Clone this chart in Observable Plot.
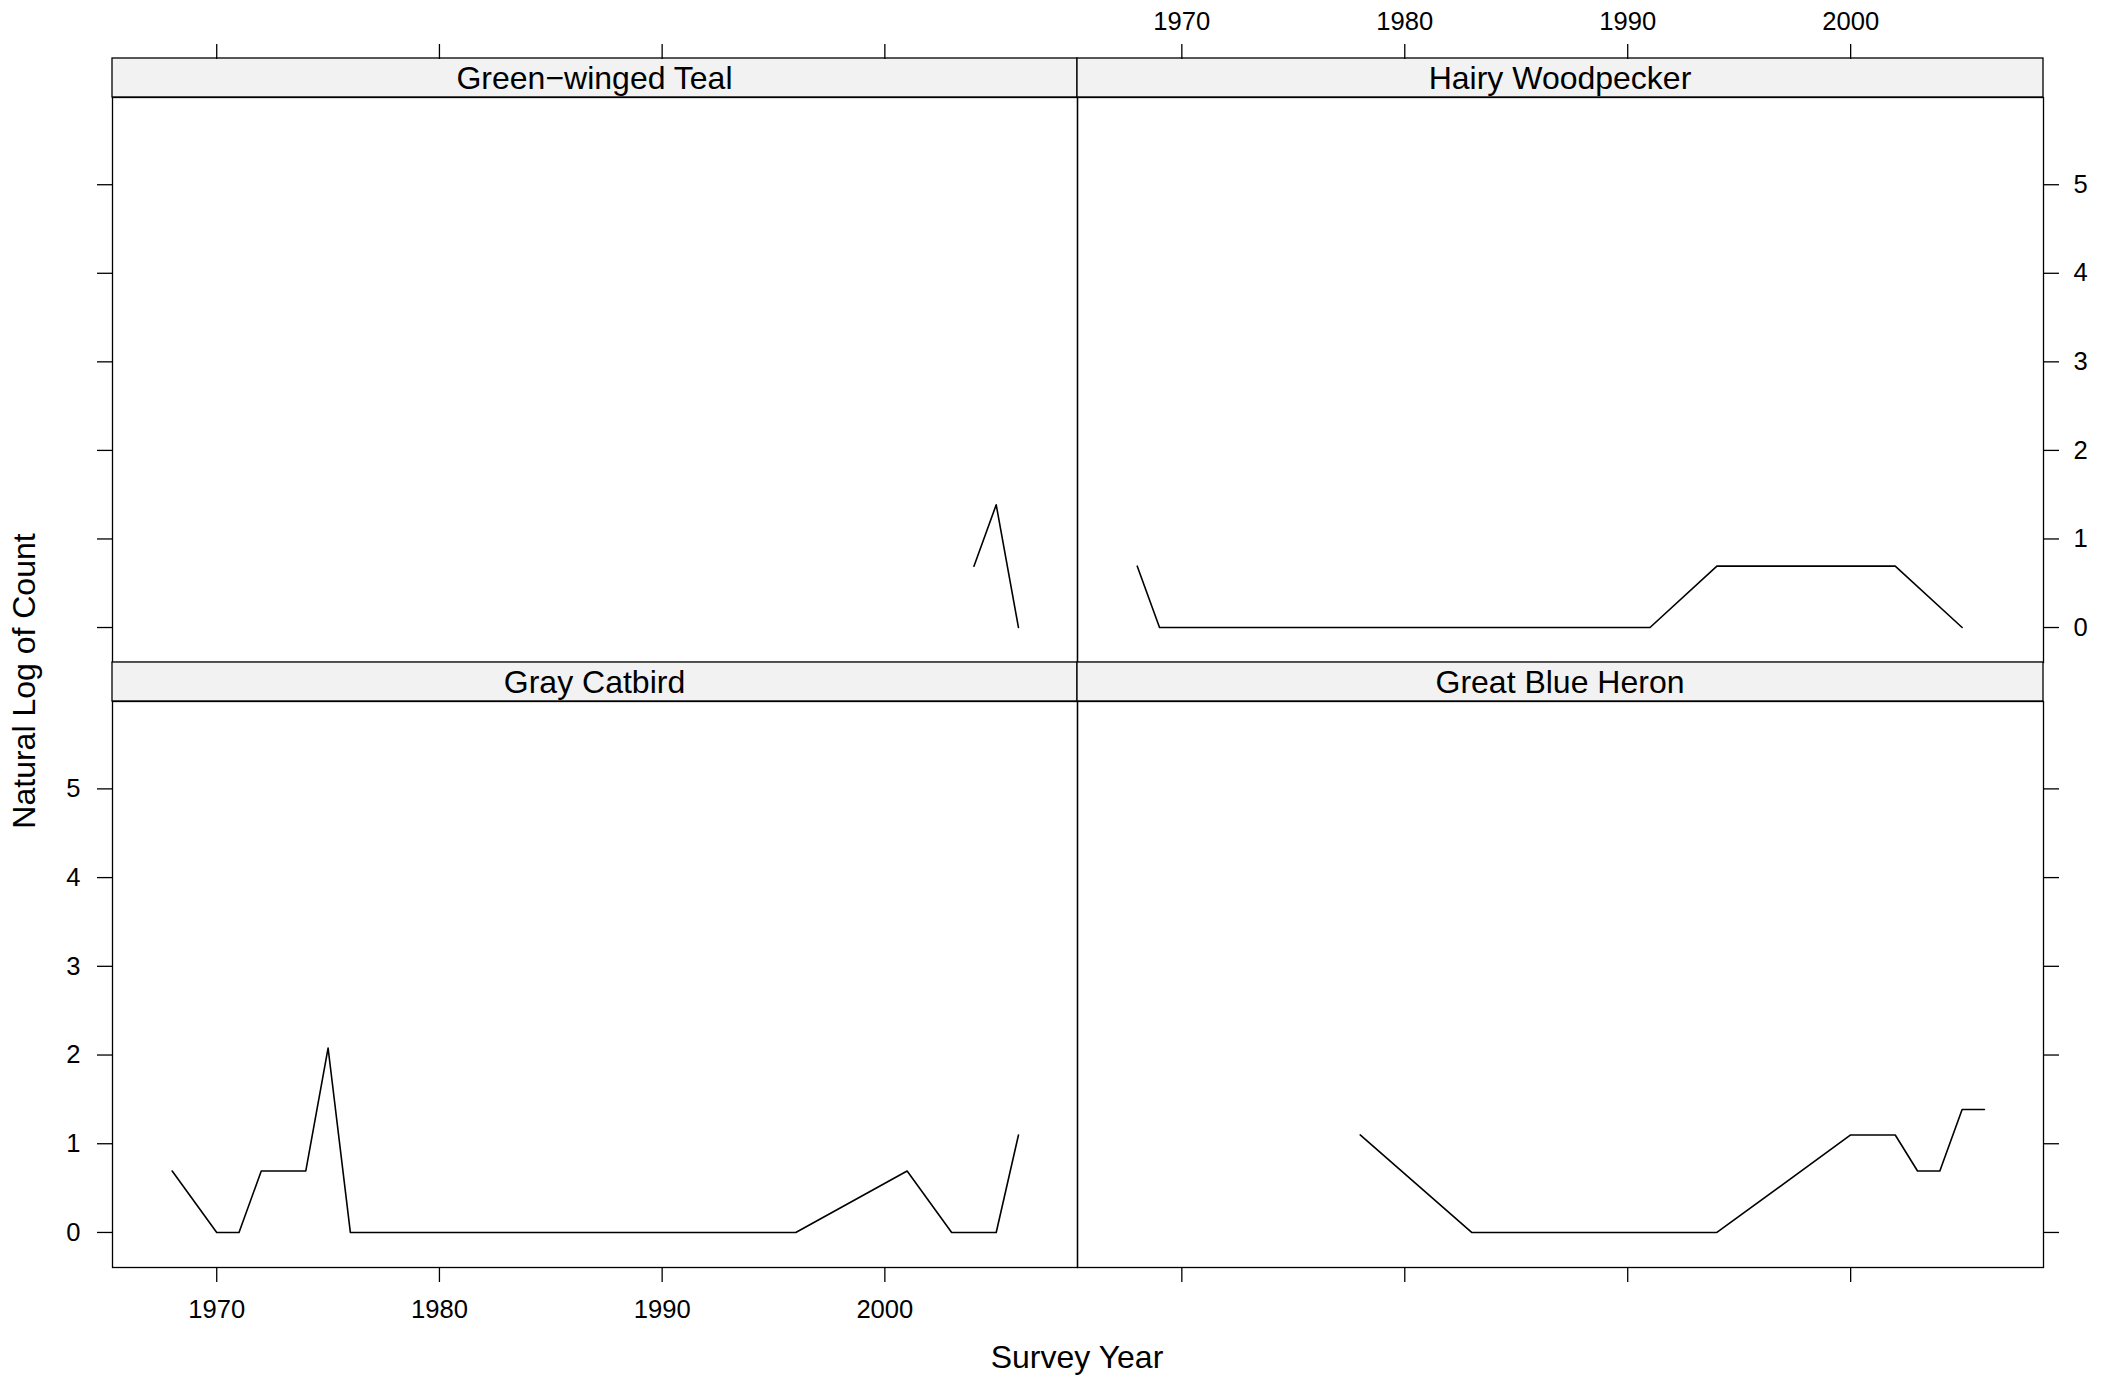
<!DOCTYPE html>
<html><head><meta charset="utf-8">
<script src="https://cdn.jsdelivr.net/npm/d3@7"></script>
<script src="https://cdn.jsdelivr.net/npm/@observablehq/plot@0.6"></script>
<style>
html,body{margin:0;padding:0;background:#fff;}
#chart{position:relative;width:2114px;height:1378px;font-family:"Liberation Sans",Arial,Helvetica,sans-serif;overflow:hidden;background:#fff;}
#chart svg{position:absolute;left:0;top:0;}
.lab{position:absolute;white-space:nowrap;font-size:32px;color:#000;line-height:1;}
</style></head>
<body>
<div id="chart">
  <div class="lab" style="left:1077px;top:1357px;transform:translate(-50%,-50%);">Survey Year</div>
  <div class="lab" style="left:24px;top:681px;transform:translate(-50%,-50%) rotate(-90deg);">Natural Log of Count</div>
</div>
<script>
// ---- data ----
const species = ["Green\u2212winged Teal", "Hairy Woodpecker", "Gray Catbird", "Great Blue Heron"];
const tealYears = [2004, 2005, 2006];
const tealLog = [0.693, 1.386, 0];
const woodpeckerYears = [1968, 1969, 1991, 1994, 2002, 2005];
const woodpeckerLog = [0.693, 0, 0, 0.693, 0.693, 0];
const catbirdYears = [1968, 1970, 1971, 1972, 1974, 1975, 1976, 1996, 2001, 2003, 2005, 2006];
const catbirdLog = [0.693, 0, 0, 0.693, 0.693, 2.079, 0, 0, 0.693, 0, 0, 1.099];
const heronYears = [1978, 1983, 1994, 2000, 2002, 2003, 2004, 2005, 2006];
const heronLog = [1.099, 0, 0, 1.099, 1.099, 0.693, 0.693, 1.386, 1.386];
const xTicks = [1970, 1980, 1990, 2000];
const yTicks = [0, 1, 2, 3, 4, 5];

// ---- layout ----
const W = 2114, H = 1378;
const colL = [112, 1077], colR = [1077, 2043];
const rowTop = [97, 701], rowBot = [662, 1267];
const stripH = 39;
const xDomain = [1965.32, 2008.65];
const yDomain = [-0.395, 5.985];
const fontSize = 25.6;

const series = [
  {name: species[0], years: tealYears, vals: tealLog, col: 0, row: 0},
  {name: species[1], years: woodpeckerYears, vals: woodpeckerLog, col: 1, row: 0},
  {name: species[2], years: catbirdYears, vals: catbirdLog, col: 0, row: 1},
  {name: species[3], years: heronYears, vals: heronLog, col: 1, row: 1}
];

const chart = document.getElementById("chart");
const blank = () => "";

for (const s of series) {
  const data = s.years.map((y, i) => ({year: y, value: s.vals[i]}));
  const L = colL[s.col], R = colR[s.col], T = rowTop[s.row], B = rowBot[s.row];
  const strip = () => {
    const g = d3.create("svg:g");
    g.append("rect")
      .attr("x", L).attr("y", T - stripH)
      .attr("width", R - L).attr("height", stripH)
      .attr("fill", "#f2f2f2").attr("stroke", "#000").attr("stroke-width", 1.3);
    g.append("text")
      .attr("x", (L + R) / 2).attr("y", T - stripH / 2)
      .attr("dy", "0.35em")
      .attr("text-anchor", "middle")
      .attr("font-size", 32)
      .attr("fill", "#000")
      .text(s.name);
    return g.node();
  };
  const marks = [
    strip,
    Plot.line(data, {x: "year", y: "value", stroke: "#000", strokeWidth: 1.6}),
    Plot.frame({stroke: "#000", strokeWidth: 1.3})
  ];
  if (s.row === 0) {
    marks.push(Plot.axisX(xTicks, {anchor: "top", tickSize: 15, tickPadding: 14, dy: -stripH,
      tickFormat: s.col === 1 ? d => String(d) : blank, strokeWidth: 1.3}));
  } else {
    marks.push(Plot.axisX(xTicks, {anchor: "bottom", tickSize: 15, tickPadding: 17,
      tickFormat: s.col === 0 ? d => String(d) : blank, strokeWidth: 1.3}));
  }
  if (s.col === 0) {
    marks.push(Plot.axisY(yTicks, {anchor: "left", tickSize: 15, tickPadding: 17,
      tickFormat: s.row === 1 ? d => String(d) : blank, strokeWidth: 1.3}));
  } else {
    marks.push(Plot.axisY(yTicks, {anchor: "right", tickSize: 15, tickPadding: 15,
      tickFormat: s.row === 0 ? d => String(d) : blank, strokeWidth: 1.3}));
  }
  const svg = Plot.plot({
    width: W, height: H,
    marginLeft: L, marginRight: W - R, marginTop: T, marginBottom: H - B,
    x: {domain: xDomain, axis: null, label: null},
    y: {domain: yDomain, axis: null, label: null},
    style: {fontSize: fontSize + "px", fontFamily: "'Liberation Sans', Arial, Helvetica, sans-serif",
            background: "transparent", color: "#000", overflow: "visible"},
    marks
  });
  chart.appendChild(svg);
}
</script>
</body></html>
